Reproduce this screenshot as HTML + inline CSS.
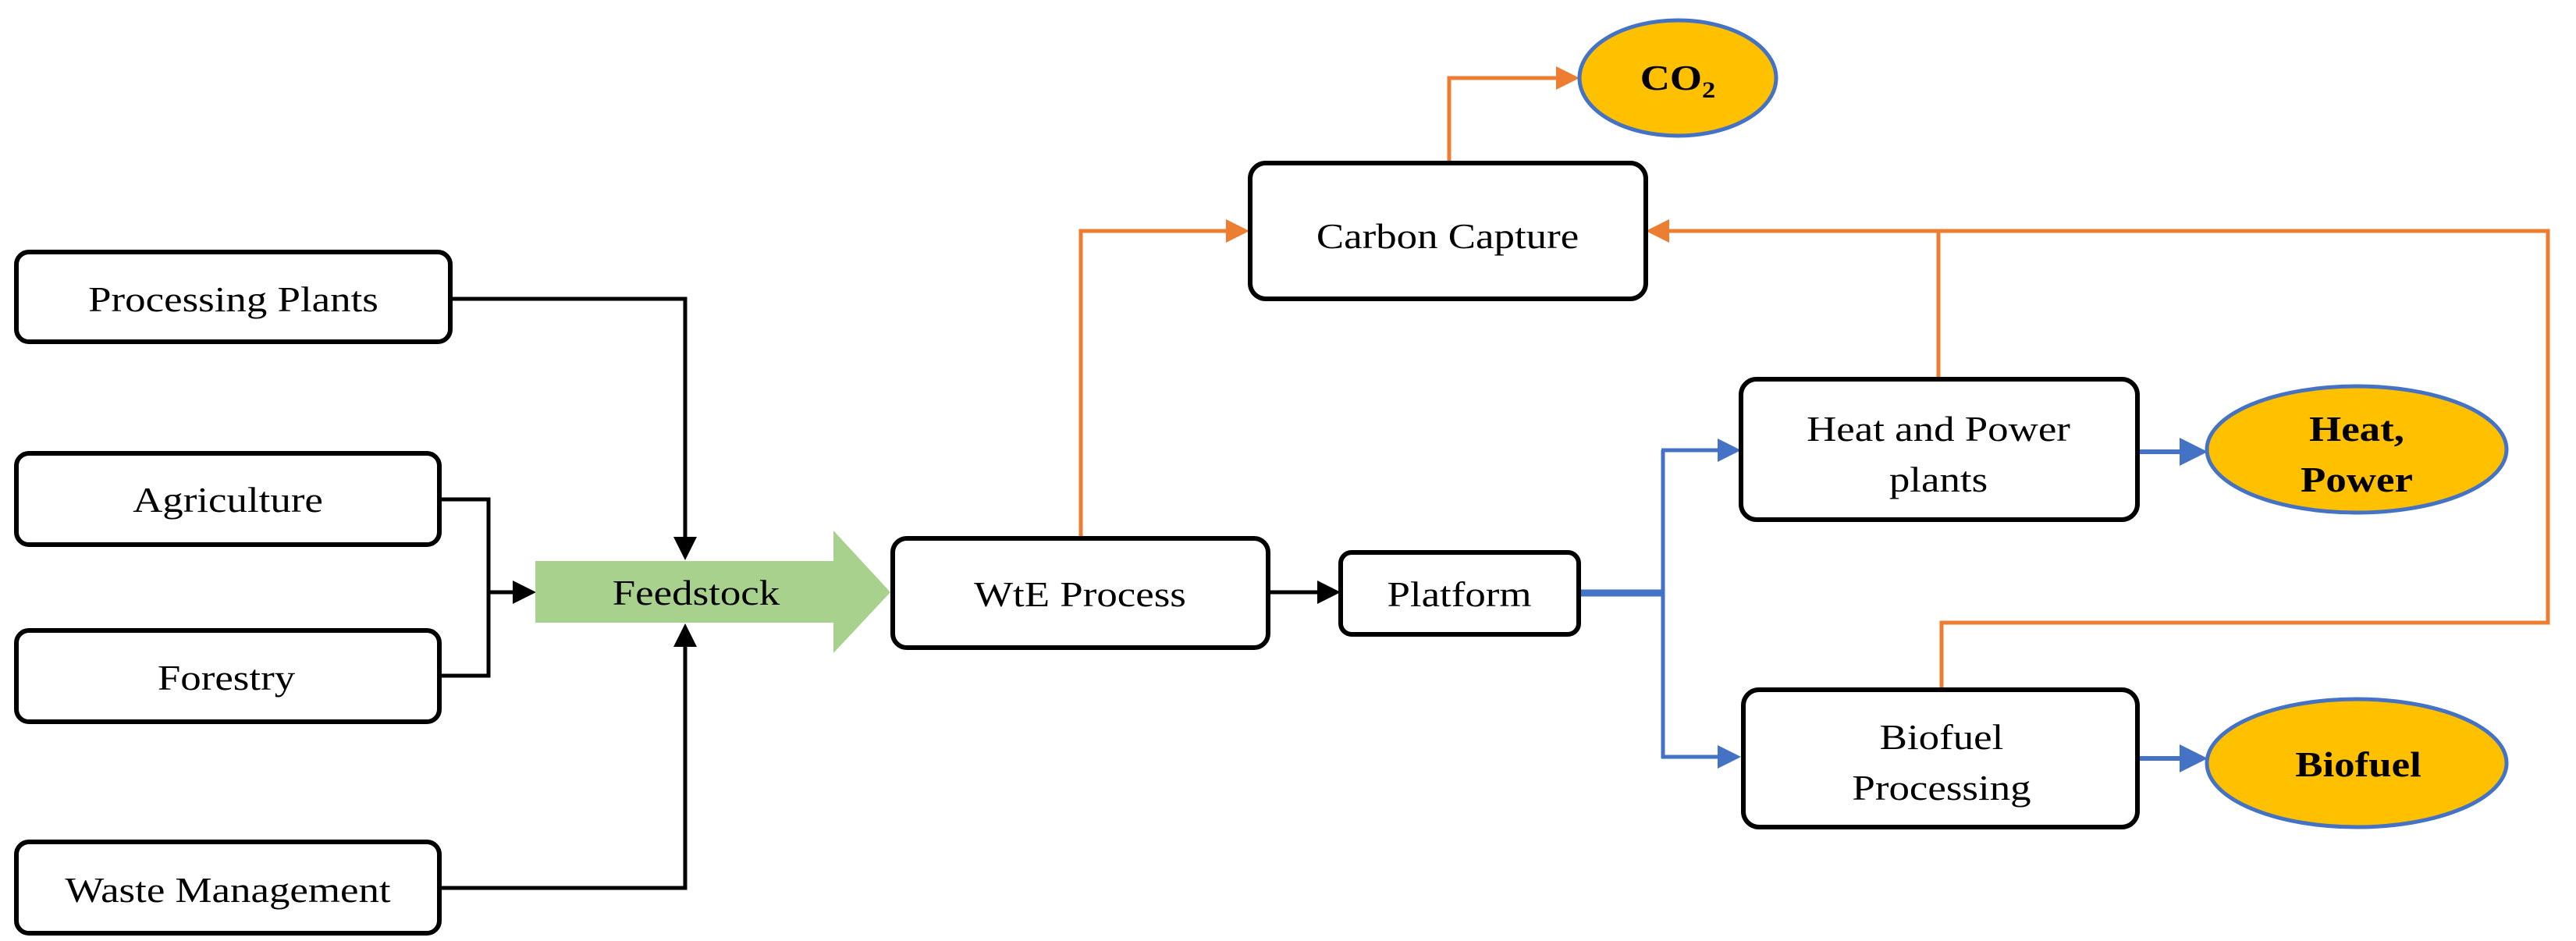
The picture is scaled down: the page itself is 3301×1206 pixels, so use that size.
<!DOCTYPE html>
<html><head><meta charset="utf-8"><style>
html,body{margin:0;padding:0;background:#fff;overflow:hidden}
svg{display:block}
text{font-family:"Liberation Serif",serif;font-size:46px;fill:#000}
.b{font-weight:bold}
</style></head><body>
<svg width="3301" height="1206" viewBox="0 0 3301 1206" xmlns="http://www.w3.org/2000/svg">
<defs>
<marker id="ak" markerWidth="6" markerHeight="6" refX="5" refY="3" orient="auto" markerUnits="strokeWidth"><path d="M0,0 L6,3 L0,6 z" fill="#000"/></marker>
<marker id="ao" markerWidth="6" markerHeight="6" refX="5" refY="3" orient="auto" markerUnits="strokeWidth"><path d="M0,0 L6,3 L0,6 z" fill="#ED7D31"/></marker>
<marker id="ab" markerWidth="6" markerHeight="6" refX="5" refY="3" orient="auto" markerUnits="strokeWidth"><path d="M0,0 L6,3 L0,6 z" fill="#4472C4"/></marker>
</defs>
<g fill="none">
<polyline points="577,383 878,383 878,713" stroke="#000" stroke-width="5" marker-end="url(#ak)"/>
<polyline points="563,1138 878,1138 878,804" stroke="#000" stroke-width="5" marker-end="url(#ak)"/>
<polyline points="563,640 626,640 626,866 563,866" stroke="#000" stroke-width="5"/>
<line x1="626" y1="759" x2="682" y2="759" stroke="#000" stroke-width="5" marker-end="url(#ak)"/>
<line x1="1625" y1="759" x2="1713" y2="759" stroke="#000" stroke-width="5" marker-end="url(#ak)"/>
<polyline points="1385,690 1385,296 1596,296" stroke="#ED7D31" stroke-width="5" marker-end="url(#ao)"/>
<polyline points="1857,209 1857,100 2019,100" stroke="#ED7D31" stroke-width="5" marker-end="url(#ao)"/>
<polyline points="2488,884 2488,798 3265,798 3265,296 2114,296" stroke="#ED7D31" stroke-width="5" marker-end="url(#ao)"/>
<line x1="2484" y1="486" x2="2484" y2="296" stroke="#ED7D31" stroke-width="5"/>
<line x1="2023" y1="760" x2="2133" y2="760" stroke="#4472C4" stroke-width="9"/>
<line x1="2131" y1="577" x2="2131" y2="972" stroke="#4472C4" stroke-width="5"/>
<line x1="2129" y1="577" x2="2226" y2="577" stroke="#4472C4" stroke-width="5" marker-end="url(#ab)"/>
<line x1="2129" y1="970" x2="2226" y2="970" stroke="#4472C4" stroke-width="5" marker-end="url(#ab)"/>
<line x1="2739" y1="579" x2="2823" y2="579" stroke="#4472C4" stroke-width="6" marker-end="url(#ab)"/>
<line x1="2739" y1="972" x2="2823" y2="972" stroke="#4472C4" stroke-width="6" marker-end="url(#ab)"/>
</g>
<polygon points="686,719 1068,719 1068,680 1141,759 1068,837 1068,798 686,798" fill="#A9D18E"/>
<g fill="#fff" stroke="#000" stroke-width="6">
<rect x="21" y="323" width="556" height="115" rx="16"/>
<rect x="21" y="581" width="542" height="117" rx="16"/>
<rect x="21" y="808" width="542" height="117" rx="16"/>
<rect x="21" y="1079" width="542" height="117" rx="16"/>
<rect x="1144" y="690" width="481" height="140" rx="18"/>
<rect x="1602" y="209" width="507" height="174" rx="20"/>
<rect x="1718" y="708" width="305" height="105" rx="14"/>
<rect x="2231" y="486" width="508" height="180" rx="20"/>
<rect x="2234" y="884" width="505" height="176" rx="20"/>
</g>
<g fill="#FFC000" stroke="#4472C4" stroke-width="5">
<ellipse cx="2150" cy="100" rx="126" ry="74"/>
<ellipse cx="3020" cy="576" rx="192" ry="81"/>
<ellipse cx="3020" cy="978" rx="192" ry="82"/>
</g>
<g text-anchor="middle">
<text transform="translate(892,775) scale(1.15,1)">Feedstock</text>
<text transform="translate(299,399) scale(1.15,1)">Processing Plants</text>
<text transform="translate(292,656) scale(1.15,1)">Agriculture</text>
<text transform="translate(290,884) scale(1.15,1)">Forestry</text>
<text transform="translate(292,1156) scale(1.15,1)">Waste Management</text>
<text transform="translate(1384,777) scale(1.15,1)">WtE Process</text>
<text transform="translate(1855,318) scale(1.15,1)">Carbon Capture</text>
<text transform="translate(1870,777) scale(1.15,1)">Platform</text>
<text transform="translate(2484,565) scale(1.15,1)">Heat and Power</text>
<text transform="translate(2484,630) scale(1.15,1)">plants</text>
<text transform="translate(2488,960) scale(1.15,1)">Biofuel</text>
<text transform="translate(2488,1025) scale(1.15,1)">Processing</text>
<text class="b" transform="translate(2150,115) scale(1.15,1)">CO<tspan font-size="30" dy="10">2</tspan></text>
<text class="b" transform="translate(3020,565) scale(1.15,1)">Heat,</text>
<text class="b" transform="translate(3020,630) scale(1.15,1)">Power</text>
<text class="b" transform="translate(3022,995) scale(1.15,1)">Biofuel</text>
</g>
</svg>
</body></html>
